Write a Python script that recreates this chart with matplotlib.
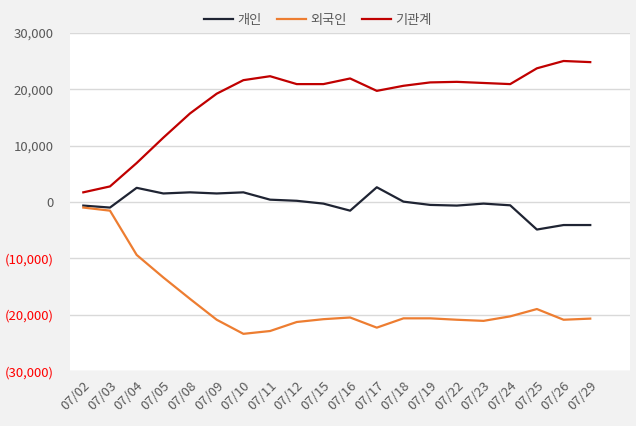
import matplotlib
matplotlib.use('Agg')
import matplotlib.pyplot as plt
from matplotlib.ticker import FuncFormatter

plt.rcParams['font.family'] = ['Noto Sans CJK KR', 'DejaVu Sans']

dates = ['07/02', '07/03', '07/04', '07/05', '07/08', '07/09', '07/10', '07/11', '07/12', '07/15',
         '07/16', '07/17', '07/18', '07/19', '07/22', '07/23', '07/24', '07/25', '07/26', '07/29']
individual = [-650, -1000, 2500, 1500, 1700, 1500, 1700, 400, 200, -300,
              -1550, 2600, 50, -530, -650, -300, -600, -4900, -4100, -4100]
foreign = [-1000, -1550, -9400, -13400, -17200, -20900, -23400, -22900, -21300, -20800,
           -20500, -22300, -20650, -20650, -20900, -21100, -20300, -19000, -20900, -20700]
institution = [1700, 2750, 6900, 11400, 15700, 19200, 21600, 22300, 20900, 20900,
               21900, 19700, 20600, 21200, 21300, 21100, 20900, 23700, 25000, 24800]
series_names = ['개인', '외국인', '기관계']
yticks = [-30000, -20000, -10000, 0, 10000, 20000, 30000]

fig = plt.figure(figsize=(6.36, 4.26), dpi=100, facecolor='#f2f2f2')
ax = fig.add_axes([0.110, 0.129, 0.881, 0.794])
ax.set_facecolor('white')

x = range(len(dates))
ax.plot(x, individual, color='#1f2433', lw=1.6, label=series_names[0])
ax.plot(x, foreign, color='#ed7d31', lw=1.6, label=series_names[1])
ax.plot(x, institution, color='#c00000', lw=1.6, label=series_names[2])

ax.set_xlim(-0.5, len(dates) + 0.5)
ax.set_ylim(-30000, 30000)
ax.set_yticks(yticks)
ax.yaxis.set_major_formatter(FuncFormatter(
    lambda v, p: f"({abs(v):,.0f})" if v < 0 else f"{v:,.0f}"))
ax.grid(axis='y', color='#d9d9d9', lw=1)
ax.set_axisbelow(True)
for s in ax.spines.values():
    s.set_visible(False)

ax.set_xticks(list(x))
ax.set_xticklabels(dates, rotation=45, ha='right', rotation_mode='anchor')
ax.tick_params(axis='both', length=0, labelsize=9.5, labelcolor='#595959')
ax.tick_params(axis='y', pad=12)
ax.tick_params(axis='x', pad=6)
for lab, v in zip(ax.get_yticklabels(), yticks):
    if v < 0:
        lab.set_color('#ff0000')

fig.legend(loc='upper center', bbox_to_anchor=(0.5, 0.995), ncol=3, frameon=False,
           fontsize=9.5, handlelength=2.2, columnspacing=1.2, handletextpad=0.3,
           labelcolor='#595959')

fig.savefig('out.png', dpi=100, facecolor=fig.get_facecolor())
